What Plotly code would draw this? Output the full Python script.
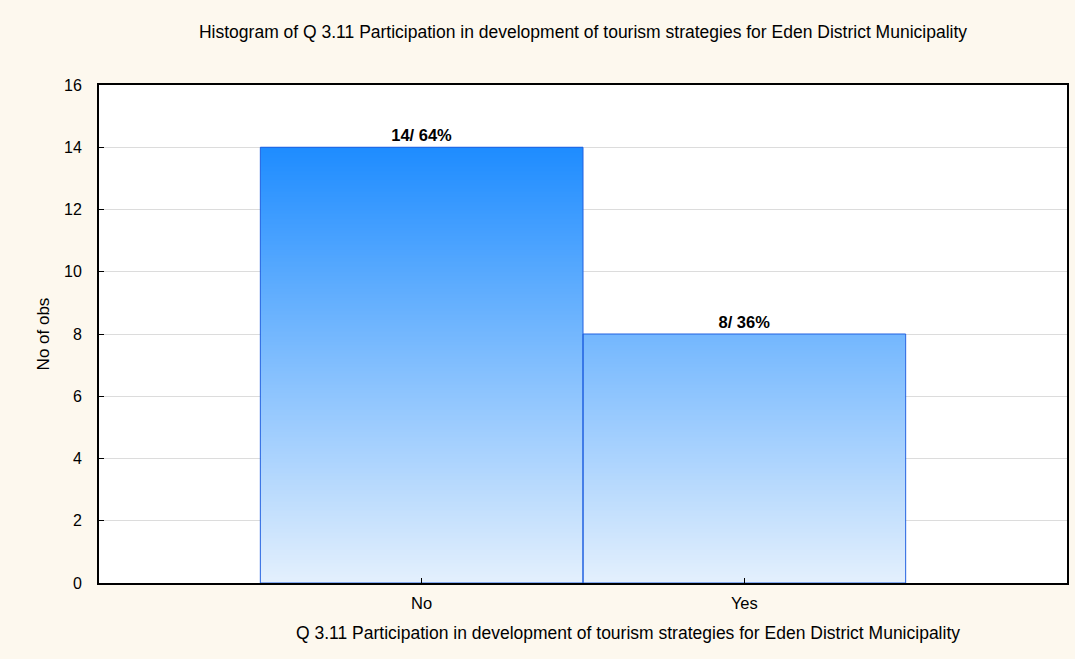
import numpy as np
import plotly.graph_objects as go

# --- DATA ---
categories = ["No", "Yes"]
counts = [14, 8]
percents = [64, 36]
y_ticks = [0, 2, 4, 6, 8, 10, 12, 14, 16]

TITLE = "Histogram of Q 3.11 Participation in development of tourism strategies for Eden District Municipality"
X_TITLE = "Q 3.11 Participation in development of tourism strategies for Eden District Municipality"
FONT = "Liberation Sans, Arial, sans-serif"

x_pos = list(range(len(categories)))

# vertical gradient fill for the bars: heatmap bricks clipped at each count
y_edges = np.linspace(0, 16, 321)
y_mid = (y_edges[:-1] + y_edges[1:]) / 2
z = np.array([[ym if ym <= c else np.nan for c in counts] for ym in y_mid])

fig = go.Figure()
fig.add_trace(go.Heatmap(
    x=x_pos, y=y_edges, z=z,
    colorscale=[[0, "rgb(228,240,253)"], [1, "rgb(30,140,255)"]],
    zmin=0, zmax=max(counts),
    showscale=False, hoverinfo="skip",
))
fig.add_trace(go.Bar(
    x=x_pos, y=counts, width=1,
    marker=dict(color="rgba(0,0,0,0)", line=dict(color="#2060e0", width=1)),
    text=[f"<b>{c}/ {p}%</b>" for c, p in zip(counts, percents)],
    textposition="outside", cliponaxis=False,
    textfont=dict(family=FONT, size=16.5, color="black"),
))

# x title sits right of centre in the original, so use an annotation
fig.add_annotation(
    text=X_TITLE, xref="paper", yref="paper", x=0.546, y=-0.1004,
    xanchor="center", yanchor="middle", showarrow=False,
    font=dict(family=FONT, size=17.5, color="black"),
)

fig.update_layout(
    width=1075, height=659,
    paper_bgcolor="#fdf8ee", plot_bgcolor="white",
    margin=dict(l=99, r=6, t=85, b=76),
    showlegend=False,
    font=dict(family=FONT, size=16, color="black"),
    title=dict(text=TITLE, x=0.5, xref="paper", xanchor="center", y=0.951,
               yanchor="middle", font=dict(size=17.5)),
    xaxis=dict(
        range=[-1, 2], tickvals=x_pos, ticktext=categories,
        ticks="inside", ticklen=5, tickcolor="black",
        tickfont=dict(size=16.5), ticklabelstandoff=4,
        showgrid=False, zeroline=False,
        showline=True, linecolor="black", linewidth=2, mirror=True,
    ),
    yaxis=dict(
        range=[0, 16], tickvals=y_ticks,
        ticks="inside", ticklen=5, tickcolor="black",
        ticklabelstandoff=12,
        showgrid=True, gridcolor="#dcdcdc", gridwidth=1, zeroline=False,
        showline=True, linecolor="black", linewidth=2, mirror=True,
        title=dict(text="No of obs", standoff=10, font=dict(size=17)),
    ),
)

fig.write_html("out.html", config={"displayModeBar": False},
               post_script="document.body.style.margin='0';")
